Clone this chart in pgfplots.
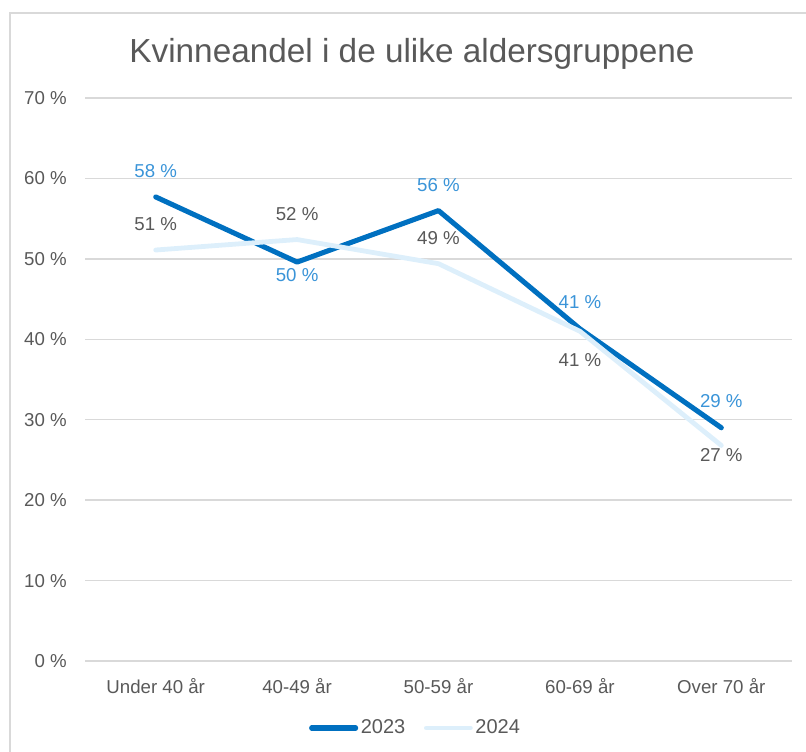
\documentclass[border=0pt]{standalone}
\usepackage{pgfplots}
\pgfplotsset{compat=1.18}
\usepackage{pgfplotstable}
\usepackage{fontspec}
\setmainfont{Liberation Sans}
\definecolor{c23}{HTML}{0070C0}
\definecolor{c24}{HTML}{DDEFFB}
\definecolor{lab23}{HTML}{3A94D8}
\definecolor{txt}{HTML}{595959}
\definecolor{gridc}{HTML}{D9D9D9}

\pgfplotstableread{
x y dy
0 57.7 26
1 49.6 -13
2 56.0 26
3 41.3 27
4 29.0 27
}\dataA
\pgfplotstableread{
x y dy
0 51.1 26
1 52.4 25
2 49.4 26
3 41.0 -29
4 26.8 -10
}\dataB

\begin{document}
\begin{tikzpicture}[x=0.75pt,y=0.75pt]
\useasboundingbox (0,0) rectangle (806,751);
\draw[gridc, line width=1pt] (10,-5) -- (10,738) -- (811,738);
\node[txt, font=\fontsize{25}{30}\selectfont] at (412,697) {Kvinneandel i de ulike aldersgruppene};
\begin{axis}[
  at={(63.75pt,67.5pt)}, anchor=south west, scale only axis,
  width=530.25pt, height=422.25pt,
  xmin=-0.5, xmax=4.5, ymin=0, ymax=70,
  xtick={0,1,2,3,4},
  xticklabels={Under 40 år, 40-49 år, 50-59 år, 60-69 år, Over 70 år},
  ytick={0,10,...,70},
  yticklabel={\pgfmathprintnumber{\tick}~\%},
  /pgf/number format/assume math mode=true,
  ymajorgrids, grid style={gridc, line width=1pt},
  axis line style={draw=none}, major tick length=0pt,
  tick label style={txt, font=\fontsize{14}{16}\selectfont},
  yticklabel style={anchor=east, inner sep=0pt, xshift=-13.5pt},
  xticklabel style={anchor=base, inner sep=0pt, yshift=-24pt},
  clip=false,
  legend style={draw=none, fill=none, at={(0.468,-0.119)}, anchor=center,
    legend columns=2, font=\fontsize{15}{18}\selectfont, text=txt,
    /tikz/every even column/.append style={column sep=12pt}},
  legend image code/.code={\draw[#1] (0pt,0pt) -- (33pt,0pt);},
]
\addplot[c23, line width=3.8pt, line cap=round, line join=round] table[x=x,y=y]{\dataA};
\addlegendentry{2023}
\addplot[c24, line width=3.6pt, line cap=round, line join=round] table[x=x,y=y]{\dataB};
\addlegendentry{2024}

\addplot[draw=none, forget plot, point meta=y,
  nodes near coords={\pgfmathprintnumber[fixed,precision=0]{\pgfplotspointmeta}~\%},
  nodes near coords align=center,
  visualization depends on={\thisrow{dy} \as \dy},
  every node near coord/.append style={lab23, font=\fontsize{14}{16}\selectfont, inner sep=0pt, anchor=center, yshift=\dy*0.75pt}]
  table[x=x,y=y]{\dataA};
\addplot[draw=none, forget plot, point meta=y,
  nodes near coords={\pgfmathprintnumber[fixed,precision=0]{\pgfplotspointmeta}~\%},
  nodes near coords align=center,
  visualization depends on={\thisrow{dy} \as \dy},
  every node near coord/.append style={txt, font=\fontsize{14}{16}\selectfont, inner sep=0pt, anchor=center, yshift=\dy*0.75pt}]
  table[x=x,y=y]{\dataB};
\end{axis}
\end{tikzpicture}
\end{document}
